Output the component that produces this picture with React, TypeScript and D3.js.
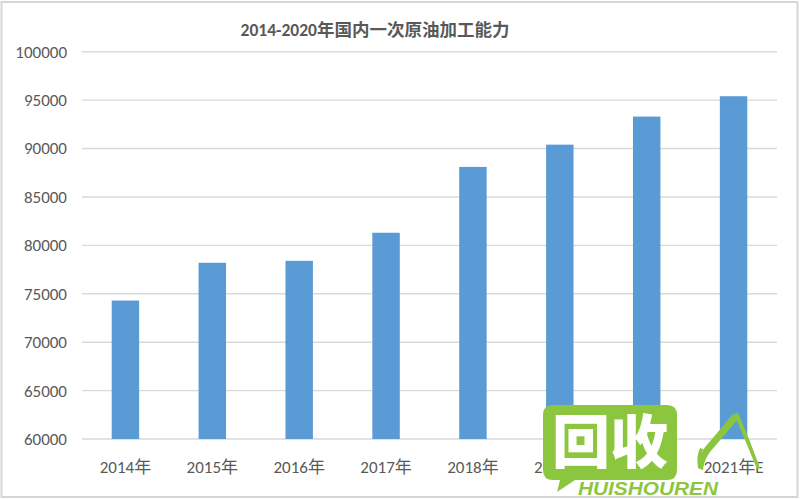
import React from "react";
import * as d3 from "d3";

const categories = ["2014年", "2015年", "2016年", "2017年", "2018年", "2019年", "2020年", "2021年E"];
const values = [74300, 78200, 78400, 81300, 88100, 90400, 93300, 95400];
const yTicks = [60000, 65000, 70000, 75000, 80000, 85000, 90000, 95000, 100000];
const title = "2014-2020年国内一次原油加工能力";

const W = 800;
const H = 500;
const FONT = "Carlito, 'Liberation Sans', 'Noto Sans CJK SC', sans-serif";

export default function App() {
  const x = d3.scaleBand<string>().domain(categories).range([82, 777]).paddingInner(0.684).paddingOuter(0.342);
  const y = d3.scaleLinear().domain([60000, 100000]).range([439, 51.7]);

  return (
    <svg width={W} height={H} style={{ position: "absolute", left: 0, top: 0, background: "#fff" }}>
      <rect x={0} y={0} width={W} height={H} fill="#fff" />
      <rect x={1.5} y={2} width={796} height={495} fill="none" stroke="#d6d6d6" strokeWidth={2} />
      <text x={375} y={36} textAnchor="middle" fontFamily={FONT} fontSize={17.5} fontWeight="bold" fill="#595959">
        {title}
      </text>
      {yTicks.map((t) => (
        <g key={t}>
          <line x1={82} x2={777} y1={y(t)} y2={y(t)} stroke="#d9d9d9" strokeWidth={1.4} />
          <text x={67} y={y(t)} dy="0.35em" textAnchor="end" fontFamily={FONT} fontSize={17} fill="#595959">
            {t}
          </text>
        </g>
      ))}
      {categories.map((c, i) => (
        <rect key={c} x={x(c)} y={y(values[i])} width={x.bandwidth()} height={y(60000) - y(values[i])} fill="#5b9bd5" />
      ))}
      {categories.map((c) => (
        <text key={c} x={(x(c) as number) + x.bandwidth() / 2} y={467} dy="0.35em" textAnchor="middle" fontFamily={FONT} fontSize={17} fill="#595959">
          {c}
        </text>
      ))}
      {/* watermark */}
      <g>
        <path d="M553,405 H667 Q677,405 677,415 V470 Q677,480 667,480 H575 L557,492 L560,480 H553 Q543,480 543,470 V415 Q543,405 553,405 Z" fill="#8cc63f" />
        <text x={610} y={443} dy="0.35em" textAnchor="middle" fontFamily="'Noto Sans CJK SC', sans-serif" fontSize={58} fontWeight="900" fill="#fff">
          回收
        </text>
        <text x={578} y={495} textLength={140} lengthAdjust="spacingAndGlyphs" fontFamily="'Liberation Sans', sans-serif" fontSize={18} fontWeight="bold" fontStyle="italic" fill="#8cc63f">
          HUISHOUREN
        </text>
        <path d="M698,468 Q700,452 706,446 Q718,432 733,414 L738,419 Q722,438 710,452 Q704,460 703,470 Z" fill="#8cc63f" />
        <path d="M734,414 L738,413 Q750,440 760,468 L757,469 Q746,442 734,414 Z" fill="#8cc63f" />
        <path d="M698,468 Q696,456 700,448 L703,449 Q700,458 703,470 Z" fill="#8cc63f" />
      </g>
    </svg>
  );
}
